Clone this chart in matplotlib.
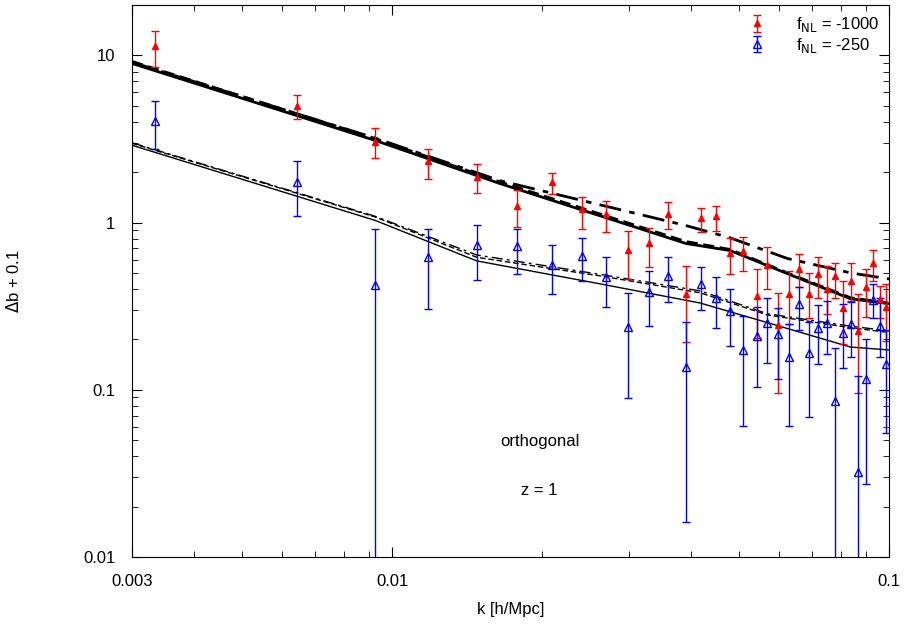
import matplotlib
matplotlib.use("Agg")
import matplotlib.pyplot as plt
from matplotlib.ticker import FixedLocator, FixedFormatter, LogLocator, NullFormatter

plt.rcParams["font.family"] = ["Liberation Sans", "DejaVu Sans"]

# data
k = [0.00334, 0.00644, 0.00925, 0.01183, 0.01483, 0.01786, 0.0210, 0.0241, 0.0270,
     0.0299, 0.0329, 0.0359, 0.0391, 0.0419, 0.0449, 0.0479, 0.0508, 0.0541, 0.0569,
     0.0598, 0.0630, 0.0659, 0.0690, 0.0719, 0.0750, 0.0778, 0.0809, 0.0839, 0.0867,
     0.0900, 0.0929, 0.0959, 0.0986]

red_val = [11.4, 4.98, 3.05, 2.32, 1.88, 1.26, 1.76, 1.20, 1.13, 0.69, 0.75, 1.13, 0.376,
           1.07, 1.09, 0.66, 0.68, 0.366, 0.56, 0.245, 0.376, 0.524, 0.376, 0.49, 0.40,
           0.48, 0.31, 0.45, 0.225, 0.41, 0.575, 0.35, 0.314]
red_hi = [13.9, 5.78, 3.68, 2.74, 2.23, 1.56, 1.99, 1.43, 1.34, 0.895, 0.93, 1.32, 0.553,
          1.23, 1.25, 0.81, 0.82, 0.524, 0.71, 0.381, 0.516, 0.65, 0.50, 0.62, 0.553,
          0.57, 0.45, 0.57, 0.376, 0.53, 0.69, 0.42, 0.43]
red_lo = [8.47, 4.17, 2.45, 1.82, 1.51, 0.946, 1.49, 0.92, 0.88, 0.46, 0.54, 0.92, 0.194,
          0.88, 0.895, 0.495, 0.51, 0.205, 0.40, 0.096, 0.248, 0.41, 0.27, 0.356, 0.285,
          0.356, 0.188, 0.341, 0.095, 0.274, 0.45, 0.27, 0.196]

blue_val = [4.03, 1.74, 0.425, 0.625, 0.73, 0.72, 0.56, 0.63, 0.47, 0.238, 0.386, 0.48,
            0.137, 0.43, 0.356, 0.297, 0.174, 0.21, 0.252, 0.216, 0.158, 0.327, 0.167,
            0.235, 0.252, 0.086, 0.219, 0.248, 0.032, 0.116, 0.346, 0.242, 0.143]
blue_hi = [5.3, 2.35, 0.91, 0.92, 0.97, 0.92, 0.73, 0.81, 0.62, 0.381, 0.516, 0.62, 0.255,
           0.545, 0.47, 0.40, 0.277, 0.314, 0.356, 0.31, 0.248, 0.414, 0.255, 0.323,
           0.341, 0.178, 0.327, 0.333, 0.12, 0.202, 0.43, 0.356, 0.229]
blue_lo = [2.74, 1.09, 0.001, 0.305, 0.456, 0.495, 0.376, 0.45, 0.314, 0.0895, 0.242,
           0.336, 0.0162, 0.30, 0.235, 0.183, 0.061, 0.104, 0.145, 0.116, 0.061, 0.229,
           0.069, 0.143, 0.164, 0.001, 0.134, 0.156, 0.001, 0.0274, 0.27, 0.156, 0.055]

# model curves
k_up = [0.003, 0.00925, 0.0165, 0.039, 0.0479, 0.0624, 0.0836, 0.1]
up_solid = [8.95, 3.10, 1.71, 0.75, 0.68, 0.495, 0.35, 0.327]
up_dashed = [9.2, 3.18, 1.75, 0.77, 0.69, 0.50, 0.355, 0.33]
up_dashdot = [9.1, 3.2, 1.78, 0.96, 0.81, 0.61, 0.50, 0.46]

k_lo = [0.003, 0.00925, 0.0148, 0.0262, 0.0417, 0.0569, 0.0836, 0.1]
lo_solid = [2.9, 1.03, 0.59, 0.43, 0.33, 0.252, 0.18, 0.173]
lo_dashed = [2.98, 1.08, 0.62, 0.48, 0.38, 0.28, 0.235, 0.22]
lo_dashdot = [3.0, 1.09, 0.64, 0.49, 0.39, 0.285, 0.24, 0.225]


def asym(v, hi, lo):
    return [[a - b for a, b in zip(v, lo)], [b - a for a, b in zip(v, hi)]]


fig = plt.figure(figsize=(9.11, 6.35), dpi=100)
ax = fig.add_axes([0.145, 0.123, 0.831, 0.869])

ax.plot(k_up, up_solid, color="black", lw=2.0)
ax.plot(k_up, up_dashed, color="black", lw=2.0, ls=(0, (4, 2)))
ax.plot(k_up, up_dashdot, color="black", lw=2.0, ls=(0, (8, 3, 2, 3)))
ax.plot(k_lo, lo_solid, color="black", lw=1.0)
ax.plot(k_lo, lo_dashed, color="black", lw=1.0, ls=(0, (4, 2)))
ax.plot(k_lo, lo_dashdot, color="black", lw=1.0, ls=(0, (8, 3, 2, 3)))

ax.errorbar(k, red_val, yerr=asym(red_val, red_hi, red_lo), fmt="^", color="red",
            ms=5, capsize=3, elinewidth=1, label="f$_{\\rm NL}$ = -1000")
ax.errorbar(k, blue_val, yerr=asym(blue_val, blue_hi, blue_lo), fmt="^", color="blue",
            mfc="none", ms=6, capsize=3, elinewidth=1, label="f$_{\\rm NL}$ = -250")

ax.set_xscale("log")
ax.set_yscale("log")
ax.set_xlim(0.003, 0.1)
ax.set_ylim(0.01, 20)
ax.xaxis.set_major_locator(FixedLocator([0.003, 0.01, 0.1]))
ax.xaxis.set_major_formatter(FixedFormatter(["0.003", "0.01", "0.1"]))
ax.xaxis.set_minor_locator(LogLocator(base=10, subs=range(2, 10)))
ax.xaxis.set_minor_formatter(NullFormatter())
ax.yaxis.set_major_locator(FixedLocator([0.01, 0.1, 1, 10]))
ax.yaxis.set_major_formatter(FixedFormatter(["0.01", "0.1", "1", "10"]))
ax.yaxis.set_minor_locator(LogLocator(base=10, subs=range(2, 10)))
ax.yaxis.set_minor_formatter(NullFormatter())
ax.tick_params(which="both", direction="in", top=True, right=True, labelsize=12)
ax.tick_params(which="major", length=7)
ax.tick_params(which="minor", length=4)
ax.tick_params(axis="x", pad=12)
ax.tick_params(axis="y", pad=12)

ax.set_xlabel("k [h/Mpc]", fontsize=12, labelpad=10)
ax.set_ylabel("$\\Delta$b + 0.1", fontsize=12, labelpad=44)
ax.text(0.0198, 0.049, "orthogonal", fontsize=12, ha="center", va="center")
ax.text(0.0198, 0.025, "z = 1", fontsize=12, ha="center", va="center")

ax.legend(loc="upper right", frameon=False, fontsize=12, handlelength=3,
          borderaxespad=0.2, labelspacing=0.1)

fig.savefig("out.png", dpi=100)
